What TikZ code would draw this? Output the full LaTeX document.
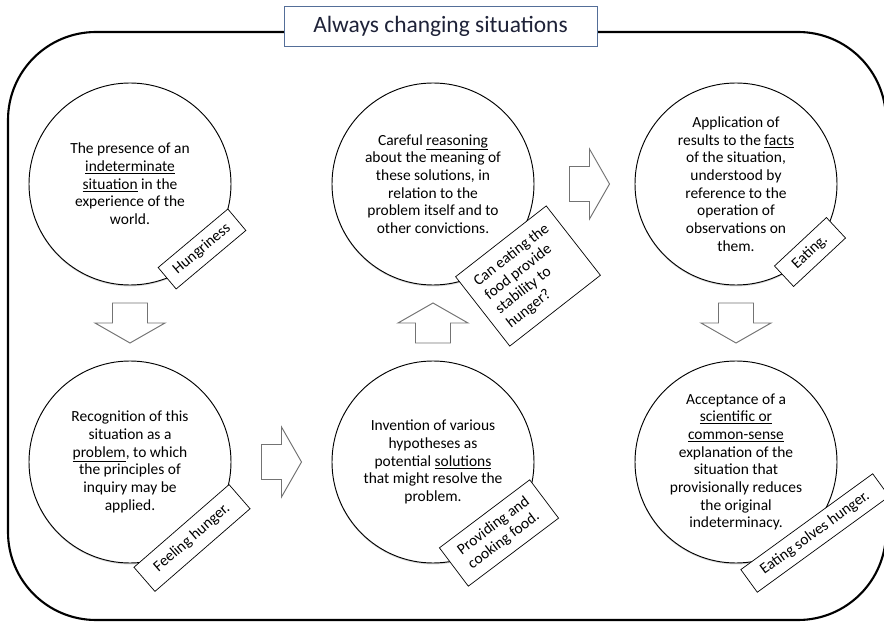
\documentclass[tikz,border=0pt]{standalone}
\usepackage{fontspec}
\setmainfont{Carlito}
\usetikzlibrary{calc,shadows}
\definecolor{titleblue}{RGB}{84,110,152}
\definecolor{titleink}{RGB}{30,34,56}

\tikzset{pics/bigarrow/.style={code={
  \draw[blockarrow] (-20,-17.5) -- (0,-17.5) -- (0,-35) -- (20,0) -- (0,35) -- (0,17.5) -- (-20,17.5) -- cycle;}}}

\begin{document}
\begin{tikzpicture}[x={(0.03cm,0cm)},y={(0cm,-0.03cm)},
  every node/.style={font=\fontsize{13.2}{15.1}\selectfont, outer sep=0pt},
  stage/.style={circle, draw, fill=white, line width=0.8pt, minimum size=6.06cm, inner sep=-14pt, align=center,
    drop shadow={shadow xshift=0pt, shadow yshift=-1.2pt, opacity=0.3}},
  tag/.style={draw, fill=white, line width=0.6pt, align=center, inner sep=1pt},
  blockarrow/.style={draw=black!55, fill=white, line width=0.8pt, line join=miter}]

\useasboundingbox (0,0) rectangle (884,623);

% frame round the cycle
\draw[line width=1.8pt, rounded corners=2.64cm] (8,32) rectangle (886,620);
\node[draw=titleblue, fill=white, line width=0.8pt, minimum width=9.39cm, minimum height=1.2cm,
  font=\fontsize{20}{24}\selectfont, text=titleink] (title) at (440.5,26) {Always changing situations};

% the six stages
\node[stage] (indet) at (130,184) {The presence of an\\ \underline{indeterminate}\\ \underline{situation} in the\\ experience of the\\ world.};
\node[stage] (problem) at (130,462) {Recognition of this\\ situation as a\\ \underline{problem}, to which\\ the principles of\\ inquiry may be\\ applied.};
\node[stage] (hypo) at (433,462) {Invention of various\\ hypotheses as\\ potential \underline{solutions}\\ that might resolve the\\ problem.};
\node[stage] (reason) at (433,184) {Careful \underline{reasoning}\\ about the meaning of\\ these solutions, in\\ relation to the\\ problem itself and to\\ other convictions.};
\node[stage] (apply) at (736,184) {Application of\\ results to the \underline{facts}\\ of the situation,\\ understood by\\ reference to the\\ operation of\\ observations on\\ them.};
\node[stage] (accept) at (736,462) {Acceptance of a\\ \underline{scientific or}\\ \underline{common-sense}\\ explanation of the\\ situation that\\ provisionally reduces\\ the original\\ indeterminacy.};

% block arrows
\pic[rotate=-90] at ($(indet)!0.5!(problem)$) {bigarrow};
\pic at ($(problem)!0.5!(hypo)$) {bigarrow};
\pic[rotate=90] at ($(hypo)!0.5!(reason)$) {bigarrow};
\pic at ($(reason)!0.5!(apply)+(5,0)$) {bigarrow};
\pic[rotate=-90] at ($(apply)!0.5!(accept)$) {bigarrow};

% hunger tags
\node[tag, rotate=40, minimum width=2.73cm, minimum height=0.84cm] (t-indet) at ($(indet)+(72,65)$) {Hungriness};
\node[tag, rotate=41, minimum width=3.78cm, minimum height=0.96cm] (t-problem) at ($(problem)+(62,76)$) {Feeling hunger.};
\node[tag, rotate=37, minimum width=3.39cm, minimum height=1.44cm, align=left] (t-hypo) at ($(hypo)+(66,71)$) {Providing and\\ cooking food.};
\node[tag, rotate=38, minimum width=3.45cm, minimum height=2.64cm, align=left] (t-reason) at ($(reason)+(95,92)$) {Can eating the\\ food provide\\ stability to\\ hunger?};
\node[tag, rotate=43, minimum width=2.13cm, minimum height=0.84cm] (t-apply) at ($(apply)+(74,68)$) {Eating.};
\node[tag, rotate=36, minimum width=4.89cm, minimum height=0.84cm] (t-accept) at ($(accept)+(79,71)$) {Eating solves hunger.};
\end{tikzpicture}
\end{document}
